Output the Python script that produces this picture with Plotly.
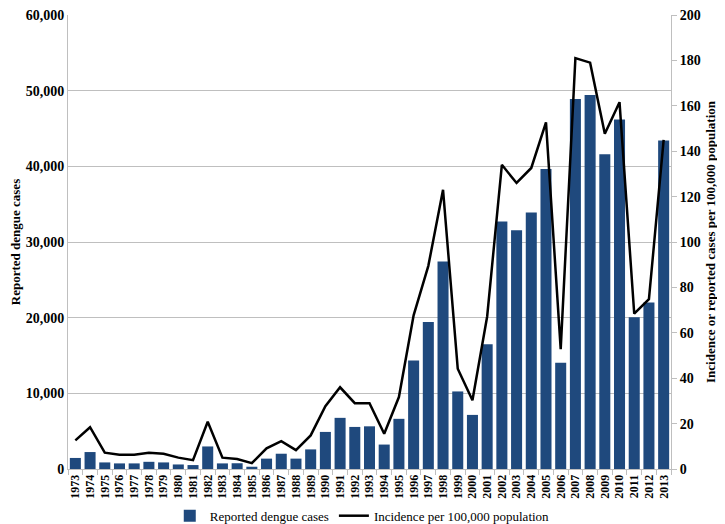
import plotly.graph_objects as go

years = [str(y) for y in range(1973, 2014)]
cases = [1460, 2240, 870, 740, 740, 950, 870, 600, 520, 2980,
         740, 760, 300, 1370, 2020, 1370, 2590, 4900, 6760, 5560,
         5640, 3230, 6630, 14350, 19430, 27410, 10250, 7150, 16500, 32710,
         31540, 33900, 39650, 14050, 48900, 49430, 41590, 46190, 20040, 22020,
         43400]
incidence = [12.6, 18.4, 7.2, 6.3, 6.3, 7.2, 6.7, 5.0, 3.9, 20.8,
             5.0, 4.4, 2.6, 9.1, 12.3, 8.3, 14.8, 27.7, 36.0, 29.0,
             29.0, 15.5, 31.7, 67.7, 89.5, 123, 44.2, 30.3, 67.2, 134,
             126, 132.6, 152.7, 52.8, 181, 179, 147.7, 161.6, 68.4, 74.8,
             145]
left_ticks = [0, 10000, 20000, 30000, 40000, 50000, 60000]
right_ticks = list(range(0, 201, 20))

font = "Liberation Serif"

fig = go.Figure()
fig.add_trace(go.Bar(x=years, y=cases, name="Reported dengue cases",
                     marker=dict(color="#1F497D", line=dict(width=0))))
fig.add_trace(go.Scatter(x=years, y=incidence, name="Incidence per 100,000 population",
                         mode="lines", line=dict(color="black", width=2.5), yaxis="y2"))

# page body has an 8px default margin, so the figure is sized to fit the window
fig.update_layout(
    width=717, height=516,
    margin=dict(l=60, r=54, t=7, b=55),
    paper_bgcolor="white", plot_bgcolor="white",
    font=dict(family=font, color="black"),
    bargap=0.25,
    showlegend=True,
    legend=dict(orientation="h", x=0.488, xanchor="center",
                yref="container", y=0.016, yanchor="middle",
                font=dict(size=13, family=font), itemwidth=30),
    xaxis=dict(type="category", tickangle=-90, automargin=False,
               tickfont=dict(size=12, family=font, weight="bold"),
               showline=True, linecolor="#BFBFBF", linewidth=1,
               ticks="outside", tickson="boundaries", ticklen=5, tickcolor="#BFBFBF",
               showgrid=False),
    yaxis=dict(range=[0, 60000], tickvals=left_ticks, automargin=False,
               ticktext=[f"{v:,}" for v in left_ticks], ticklabeloverflow="allow",
               tickfont=dict(size=14, family=font, weight="bold"),
               showline=True, linecolor="#BFBFBF", linewidth=1,
               gridcolor="#BFBFBF", gridwidth=1, zeroline=False,
               title=dict(text="Reported dengue cases",
                          font=dict(size=13, family=font, weight="bold"), standoff=6)),
    yaxis2=dict(range=[0, 200], tickvals=right_ticks, overlaying="y", side="right",
                automargin=False, ticklabeloverflow="allow",
                tickfont=dict(size=14, family=font, weight="bold"),
                showline=True, linecolor="#BFBFBF", linewidth=1,
                ticks="outside", ticklen=5, tickcolor="#BFBFBF",
                showgrid=False, zeroline=False,
                title=dict(text="Incidence or reported cases per 100,000 population",
                           font=dict(size=13, family=font, weight="bold"), standoff=6)),
)

fig.write_html("out.html")
